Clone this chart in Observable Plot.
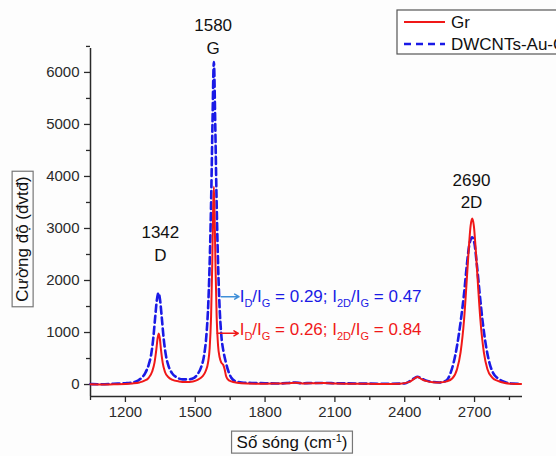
<!DOCTYPE html>
<html>
<head>
<meta charset="utf-8">
<script src="https://cdn.jsdelivr.net/npm/d3@7"></script>
<script src="https://cdn.jsdelivr.net/npm/@observablehq/plot@0.6"></script>
<style>
  html, body { margin: 0; padding: 0; background: #fdfdfd; }
  svg { font-family: "Liberation Sans", Arial, sans-serif; }
</style>
</head>
<body>
<div id="chart"></div>
<script>
// ---- Data ----
const grWavenumber = [1050,1100,1150,1200,1230,1260,1280,1300,1315,1325,1333,1338,1343,1348,1353,1360,1370,1385,1400,1430,1460,1490,1510,1530,1545,1555,1562,1568,1573,1577,1580,1583,1587,1592,1598,1605,1612,1620,1626,1632,1640,1655,1680,1720,1800,1850,1900,1930,1960,2000,2050,2100,2200,2300,2380,2420,2440,2455,2470,2490,2520,2550,2580,2605,2625,2640,2655,2665,2675,2683,2690,2697,2705,2715,2725,2740,2755,2775,2800,2830,2860,2900];
const grIntensity = [5,0,5,10,20,40,70,130,250,420,680,880,980,880,660,420,240,140,95,60,50,60,90,150,260,420,700,1300,2300,3400,3800,3300,2300,1300,750,520,420,380,300,170,100,60,35,20,15,20,25,35,20,25,30,20,15,10,15,50,110,145,110,70,45,40,60,120,300,620,1250,1900,2600,3050,3190,3050,2600,1900,1250,620,300,140,70,30,15,10];

const dwWavenumber = [1050,1100,1150,1200,1240,1265,1285,1300,1310,1320,1328,1335,1342,1349,1356,1364,1374,1385,1400,1420,1445,1470,1495,1510,1525,1538,1548,1556,1563,1569,1574,1580,1586,1591,1597,1604,1612,1622,1632,1642,1655,1670,1700,1750,1800,1850,1900,1930,1960,2000,2050,2100,2200,2300,2400,2420,2440,2455,2470,2490,2520,2550,2580,2595,2610,2625,2640,2655,2667,2678,2690,2700,2710,2722,2735,2750,2765,2780,2800,2830,2860,2900];
const dwIntensity = [10,5,15,25,50,110,220,380,560,900,1300,1620,1760,1620,1300,900,560,360,220,140,100,100,130,200,330,560,950,1550,2500,3700,5000,6200,5000,3700,2500,1550,950,620,420,260,130,70,40,30,25,20,30,40,25,30,30,25,20,15,20,60,120,150,120,80,50,40,80,200,420,750,1200,1750,2300,2700,2830,2700,2300,1750,1200,720,400,220,120,50,20,15];

const seriesNames = ["Gr", "DWCNTs-Au-Gr"];
const seriesColors = ["#f01818", "#1a1ae6"];
const yMajorTicks = [0, 1000, 2000, 3000, 4000, 5000, 6000];
const yMinorTicks = [500, 1500, 2500, 3500, 4500, 5500, 6500];
const xMajorTicks = [1200, 1500, 1800, 2100, 2400, 2700];
const xMinorTicks = [1050, 1350, 1650, 1950, 2250, 2550, 2850];
const peakLabels = [
  {x: 1577, y: 6900, text: "1580"}, {x: 1577, y: 6460, text: "G"},
  {x: 1350, y: 2920, text: "1342"}, {x: 1350, y: 2480, text: "D"},
  {x: 2687, y: 3920, text: "2690"}, {x: 2687, y: 3500, text: "2D"}
];
const ratioTexts = [
  {x: 1693, y: 1690, color: "#1a1ae6", dRatio: "0.29", twoDRatio: "0.47"},
  {x: 1693, y: 1060, color: "#f01818", dRatio: "0.26", twoDRatio: "0.84"}
];
const arrows = [
  {x1: 1611, x2: 1688, y: 1690, color: "#3f8fd8"},
  {x1: 1594, x2: 1685, y: 985, color: "#f01818"}
];

const grData = grWavenumber.map((w, i) => ({w, v: grIntensity[i]}));
const dwData = dwWavenumber.map((w, i) => ({w, v: dwIntensity[i]}));

const axisColor = "#2a2a2a";
const plot = Plot.plot({
  width: 556,
  height: 456,
  marginLeft: 90,
  marginRight: 34,
  marginTop: 48,
  marginBottom: 60,
  style: {background: "transparent", fontFamily: "'Liberation Sans', Arial, sans-serif", color: axisColor},
  x: {domain: [1050, 2906]},
  y: {domain: [-230, 6460]},
  marks: [
    Plot.axisY({ticks: yMajorTicks, tickSize: 6, tickPadding: 5, fontSize: 15, tickFormat: d3.format("d"), label: null, stroke: axisColor, strokeWidth: 1.3}),
    Plot.axisY({ticks: yMinorTicks, tickSize: 4, tickFormat: () => "", label: null, stroke: axisColor, strokeWidth: 1.3}),
    Plot.axisX({ticks: xMajorTicks, tickSize: 6, tickPadding: 4, fontSize: 15, tickFormat: d3.format("d"), label: null, stroke: axisColor, strokeWidth: 1.3}),
    Plot.axisX({ticks: xMinorTicks, tickSize: 4, tickFormat: () => "", label: null, stroke: axisColor, strokeWidth: 1.3}),
    Plot.ruleX([1050], {stroke: axisColor, strokeWidth: 1.5}),
    Plot.ruleY([-230], {stroke: axisColor, strokeWidth: 1.5}),
    Plot.line(dwData, {x: "w", y: "v", stroke: seriesColors[1], strokeWidth: 2.6, strokeDasharray: "7,4", curve: "monotone-x"}),
    Plot.line(grData, {x: "w", y: "v", stroke: seriesColors[0], strokeWidth: 2, curve: "monotone-x"}),
    Plot.text(peakLabels, {x: "x", y: "y", text: "text", fontSize: 17, fill: "#111"}),
    Plot.arrow(arrows, {x1: "x1", x2: "x2", y1: "y", y2: "y", stroke: "color", strokeWidth: 1.5, headLength: 5, bend: 0})
  ]
});

document.getElementById("chart").appendChild(plot);
const svg = d3.select(plot);
const xs = plot.scale("x"), ys = plot.scale("y");

// Ratio annotations with subscripts
for (const r of ratioTexts) {
  const t = svg.append("text")
    .attr("x", xs.apply(r.x)).attr("y", ys.apply(r.y)).attr("dy", "0.35em")
    .attr("text-anchor", "start")
    .attr("fill", r.color).attr("font-size", 17);
  const parts = [["I", 0], ["D", 1], ["/I", 0], ["G", 1], [" = " + r.dRatio + "; I", 0], ["2D", 1], ["/I", 0], ["G", 1], [" = " + r.twoDRatio, 0]];
  parts.forEach(([s, sub], i) => {
    const ts = t.append("tspan").text(s);
    const prevSub = i > 0 && parts[i - 1][1] === 1;
    if (sub) ts.attr("font-size", 11).attr("dy", i === 0 ? "0.35em" : (prevSub ? null : "5"));
    else if (prevSub) ts.attr("dy", "-5");
  });
}

// Legend box (top right, cut off by the edge like the reference)
const W = 556;
const lg = svg.append("g");
lg.append("rect").attr("x", W - 159).attr("y", 10).attr("width", 200).attr("height", 44)
  .attr("fill", "#fff").attr("stroke", "#555").attr("stroke-width", 1.2);
seriesNames.forEach((name, i) => {
  const yy = 22 + i * 22;
  lg.append("line").attr("x1", W - 152).attr("x2", W - 111).attr("y1", yy).attr("y2", yy)
    .attr("stroke", seriesColors[i]).attr("stroke-width", i ? 2.6 : 2)
    .attr("stroke-dasharray", i ? "7,5" : null);
  lg.append("text").attr("x", W - 105).attr("y", yy).attr("dy", "0.36em")
    .attr("text-anchor", "start")
    .attr("font-size", 17).attr("fill", "#111").text(name);
});

// Axis titles in boxes
function boxedLabel(x, y, rotate, build) {
  const g = svg.append("g").attr("transform", `translate(${x},${y}) rotate(${rotate})`);
  const t = g.append("text").attr("text-anchor", "middle").attr("dy", "0.36em")
    .attr("font-size", 17).attr("fill", "#111");
  build(t);
  const bb = t.node().getBBox();
  g.insert("rect", "text").attr("x", bb.x - 5).attr("y", bb.y - 1)
    .attr("width", bb.width + 10).attr("height", bb.height + 2)
    .attr("fill", "none").attr("stroke", "#777").attr("stroke-width", 1.2);
}
boxedLabel(292, 442, 0, t => {
  t.append("tspan").text("Số sóng (cm");
  t.append("tspan").text("-1").attr("font-size", 11).attr("dy", "-6");
  t.append("tspan").text(")").attr("dy", "6");
});
boxedLabel(22, 239, -90, t => t.text("Cường độ (đvtđ)"));
</script>
</body>
</html>
